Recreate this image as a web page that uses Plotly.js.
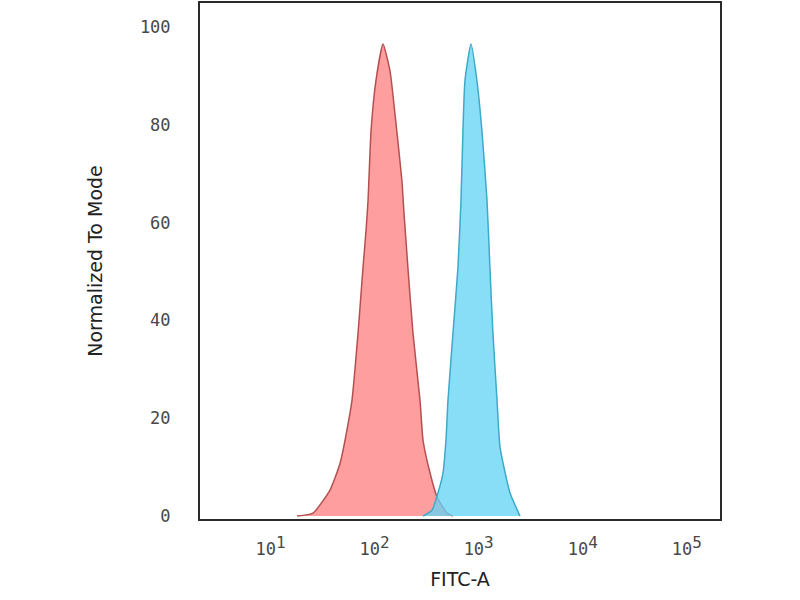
<!DOCTYPE html>
<html>
<head>
<meta charset="utf-8">
<script src="https://cdn.plot.ly/plotly-3.0.1.min.js"></script>
<style>
  html, body { margin: 0; padding: 0; background: #fff; }
  #chart { width: 800px; height: 600px; }
</style>
</head>
<body>
<div id="chart"></div>
<script>
// FITC-A intensity (linear units, drawn on a log axis) and normalized counts
const controlFitc = [18, 25.6, 37.3, 46.6, 58, 60.7, 69.3, 77.4, 82.8, 86.5, 92.5, 103,
  120.5, 140.6, 157, 183, 191, 209, 234, 273, 292, 341, 398, 497, 566];
const controlMode = [0, 0.6, 5.3, 10.8, 21, 23.7, 37.3, 50.8, 58.4, 64.5, 78.8, 89,
  96.5, 91, 82.2, 68.6, 62.4, 50.8, 37.3, 23.7, 15.5, 8.8, 3.9, 0.6, 0];

const stainedFitc = [292, 356, 406, 454, 485, 507, 566, 632, 676, 706, 738, 843,
  962, 1074, 1202, 1282, 1371, 1500, 1603, 2000, 2495];
const stainedMode = [0, 1.2, 4.7, 8.8, 15.5, 23.7, 37.3, 50.8, 64.5, 78.8, 89, 96.5,
  89, 78.8, 64.5, 50.8, 37.3, 23.7, 14.1, 4.7, 0];

const xTickVals = [10, 100, 1000, 10000, 100000];
const xTickExp = ["1", "2", "3", "4", "5"];
const yTickVals = [0, 20, 40, 60, 80, 100];

// superscript kept almost full size, like the cytometer export
const xTickText = xTickExp.map(
  (e) => "10<sup><span style='font-size:16px'>" + e + "</span></sup>",
);

const data = [
  {
    type: "scatter",
    mode: "lines",
    name: "Control",
    x: controlFitc,
    y: controlMode,
    fill: "tozeroy",
    fillcolor: "rgba(255,128,128,0.76)",
    line: { color: "rgb(180,80,80)", width: 1.5, shape: "spline", smoothing: 0.5 },
    showlegend: false,
    hoverinfo: "x+y",
  },
  {
    type: "scatter",
    mode: "lines",
    name: "Stained",
    x: stainedFitc,
    y: stainedMode,
    fill: "tozeroy",
    fillcolor: "rgba(100,212,245,0.76)",
    line: { color: "rgb(60,170,200)", width: 1.5, shape: "spline", smoothing: 0.5 },
    showlegend: false,
    hoverinfo: "x+y",
  },
];

const tickFont = { family: "DejaVu Sans Mono, monospace", size: 17, color: "#484848" };
const titleFont = { family: "DejaVu Sans, sans-serif", size: 19, color: "#222" };

const layout = {
  width: 800,
  height: 600,
  margin: { l: 200, r: 80, t: 3, b: 81 },
  paper_bgcolor: "#fff",
  plot_bgcolor: "#fff",
  xaxis: {
    type: "log",
    range: [0.323, 5.318],
    tickvals: xTickVals,
    ticktext: xTickText,
    tickfont: tickFont,
    ticks: "",
    ticklabelstandoff: 14,
    showgrid: false,
    zeroline: false,
    showline: true,
    mirror: true,
    linecolor: "#2a2a2a",
    linewidth: 2,
    title: { text: "FITC-A", font: titleFont, standoff: 14 },
  },
  yaxis: {
    range: [-0.6, 104.9],
    tickvals: yTickVals,
    tickfont: tickFont,
    ticks: "",
    ticklabelstandoff: 24,
    showgrid: false,
    zeroline: false,
    showline: true,
    mirror: true,
    linecolor: "#2a2a2a",
    linewidth: 2,
    title: { text: "Normalized To Mode", font: titleFont, standoff: 32 },
  },
};

Plotly.newPlot("chart", data, layout, { displayModeBar: false, staticPlot: true });
</script>
</body>
</html>
